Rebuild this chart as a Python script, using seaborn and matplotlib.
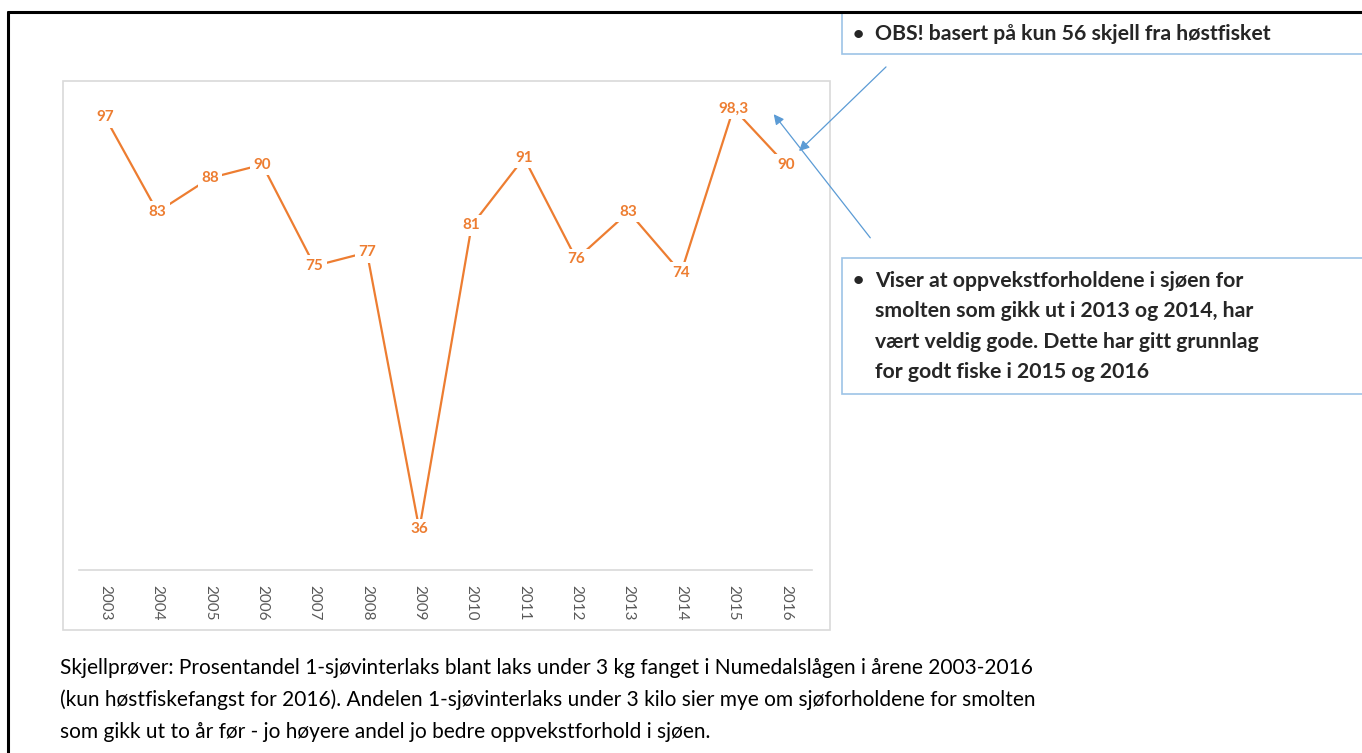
import matplotlib
matplotlib.use("Agg")
import matplotlib.pyplot as plt
import seaborn as sns
import pandas as pd
from matplotlib.patches import Rectangle, FancyArrowPatch
from matplotlib.lines import Line2D

years = [2003, 2004, 2005, 2006, 2007, 2008, 2009, 2010, 2011, 2012, 2013, 2014, 2015, 2016]
values = [97, 83, 88, 90, 75, 77, 36, 81, 91, 76, 83, 74, 98.3, 90]
value_labels = ["97", "83", "88", "90", "75", "77", "36", "81", "91", "76", "83", "74", "98,3", "90"]

note1 = "OBS! basert på kun 56 skjell fra høstfisket"
note2_lines = ["Viser at oppvekstforholdene i sjøen for",
               "smolten som gikk ut i 2013 og 2014, har",
               "vært veldig gode. Dette har gitt grunnlag",
               "for godt fiske i 2015 og 2016"]
caption_lines = ["Skjellprøver: Prosentandel 1-sjøvinterlaks blant laks under 3 kg fanget i Numedalslågen i årene 2003-2016",
                 "(kun høstfiskefangst for 2016). Andelen 1-sjøvinterlaks under 3 kilo sier mye om sjøforholdene for smolten",
                 "som gikk ut to år før - jo høyere andel jo bedre oppvekstforhold i sjøen."]

sns.set_theme(style="white")
plt.rcParams['font.family'] = ['Lato', 'DejaVu Sans']

W, H = 1362, 753
fig = plt.figure(figsize=(W / 100, H / 100), dpi=100)

def fx(px):
    return px / W

def fy(py):
    return 1 - py / H

orange = "#ED7D31"
blue = "#9DC3E6"

# outer slide border
fig.add_artist(Line2D([fx(8), fx(1362)], [fy(12), fy(12)], color="black", lw=2.2, transform=fig.transFigure))
fig.add_artist(Line2D([fx(8), fx(8)], [fy(12), fy(753)], color="black", lw=2.2, transform=fig.transFigure))

# chart area frame
fig.add_artist(Rectangle((fx(63), fy(630)), fx(830) - fx(63), fy(81) - fy(630),
                         transform=fig.transFigure, fill=False, edgecolor="#D9D9D9", lw=1.2))

ax = fig.add_axes([fx(79), fy(570), fx(812) - fx(79), fy(97) - fy(570)])
df = pd.DataFrame({"year": years, "value": values})
sns.lineplot(data=df, x="year", y="value", ax=ax, color=orange, lw=1.6)
ax.set_xlim(2002.5, 2016.5)
ax.set_ylim(30, 100)
ax.set_xticks(years)
ax.set_xticklabels([str(y) for y in years], rotation=-90, color="#595959", fontsize=11)
ax.tick_params(axis="x", length=0, pad=11)
ax.set_yticks([])
ax.set_xlabel("")
ax.set_ylabel("")
for s in ["top", "left", "right"]:
    ax.spines[s].set_visible(False)
ax.spines["bottom"].set_color("#D9D9D9")
ax.spines["bottom"].set_linewidth(1.2)
ax.patch.set_alpha(0)

for x, v, t in zip(years, values, value_labels):
    ax.text(x, v, t, ha="center", va="center", color=orange, fontsize=11, fontweight="bold",
            bbox=dict(facecolor="white", edgecolor="none", pad=2.5))

# note boxes
fig.add_artist(Rectangle((fx(842), fy(54)), fx(1370) - fx(842), fy(13) - fy(54),
                         transform=fig.transFigure, fill=True, facecolor="white", edgecolor=blue, lw=1.2))
fig.text(fx(853), fy(34), "•", fontsize=14, fontweight="bold", va="center", ha="left")
fig.text(fx(875), fy(34), note1, fontsize=15.3, fontweight="bold", va="center", ha="left")

fig.add_artist(Rectangle((fx(842), fy(394)), fx(1370) - fx(842), fy(258) - fy(394),
                         transform=fig.transFigure, fill=True, facecolor="white", edgecolor=blue, lw=1.2))
for i, line in enumerate(note2_lines):
    yy = 281 + i * 30.3
    if i == 0:
        fig.text(fx(853), fy(yy), "•", fontsize=14, fontweight="bold", va="center", ha="left")
    fig.text(fx(875), fy(yy), line, fontsize=15.3, fontweight="bold", va="center", ha="left")

# arrows
for (x0, y0), (x1, y1) in [((888, 65), (797, 153)), ((872, 240), (772, 112))]:
    fig.add_artist(FancyArrowPatch((fx(x0), fy(y0)), (fx(x1), fy(y1)), transform=fig.transFigure,
                                   arrowstyle="-|>,head_length=6,head_width=3", color="#5B9BD5",
                                   lw=0.9, mutation_scale=1))

# caption
for i, line in enumerate(caption_lines):
    fig.text(fx(60), fy(668 + i * 32), line, fontsize=15, va="center", ha="left", color="black")

fig.savefig("out.png", dpi=100)
